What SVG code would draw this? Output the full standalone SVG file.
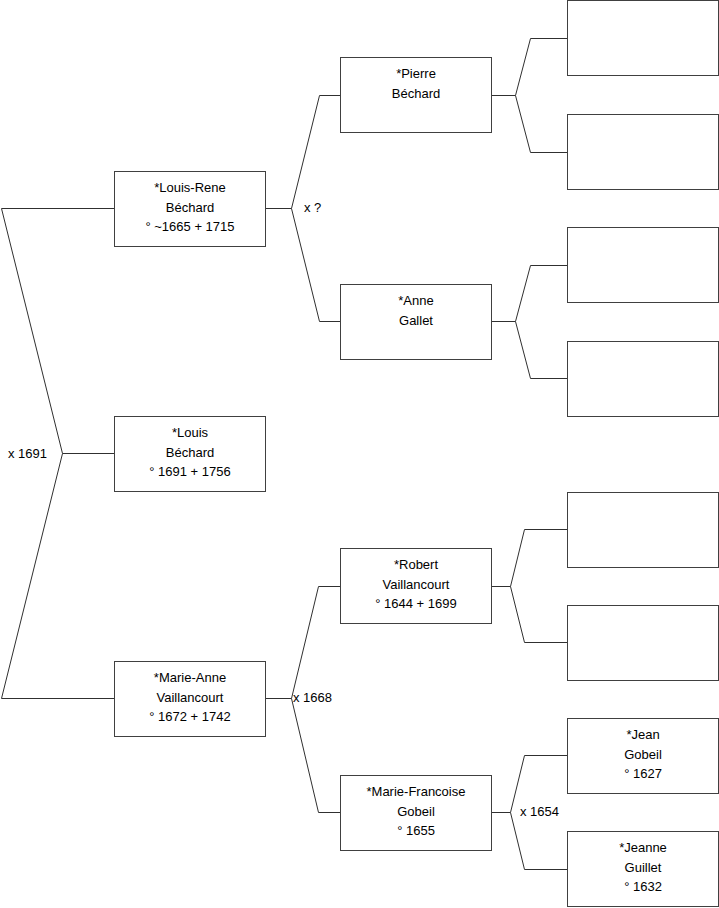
<svg xmlns="http://www.w3.org/2000/svg" width="719" height="908" viewBox="0 0 719 908">
<style>
.box{fill:#fff;stroke:#404040;stroke-width:1}
.ln{fill:none;stroke:#303030;stroke-width:1}
text{font-family:"Liberation Sans",Arial,sans-serif;font-size:13px;fill:#000}
.c{text-anchor:middle}
</style>
<rect width="719" height="908" fill="#fff"/>
<g id="connectors">
<polyline class="ln" points="114.5,208.5 1.5,208.5 62.5,453.5 1.5,698.5 114.5,698.5"/>
<line class="ln" x1="62.5" y1="453.5" x2="114.5" y2="453.5"/>
<line class="ln" x1="265.5" y1="208.5" x2="291.5" y2="208.5"/>
<polyline class="ln" points="340.5,95.5 319.5,95.5 291.5,208.5 319.5,321.5 340.5,321.5"/>
<line class="ln" x1="265.5" y1="698.5" x2="291.5" y2="698.5"/>
<polyline class="ln" points="340.5,586.5 318.5,586.5 291.5,698.5 318.5,812.5 340.5,812.5"/>
<line class="ln" x1="491.5" y1="95.5" x2="515.5" y2="95.5"/>
<polyline class="ln" points="567.5,38.5 530.5,38.5 515.5,95.5 530.5,152.5 567.5,152.5"/>
<line class="ln" x1="491.5" y1="321.5" x2="515.5" y2="321.5"/>
<polyline class="ln" points="567.5,265.5 530.5,265.5 515.5,321.5 530.5,378.5 567.5,378.5"/>
<line class="ln" x1="491.5" y1="586.5" x2="510.5" y2="586.5"/>
<polyline class="ln" points="567.5,529.5 524.5,529.5 510.5,586.5 524.5,642.5 567.5,642.5"/>
<line class="ln" x1="491.5" y1="812.5" x2="510.5" y2="812.5"/>
<polyline class="ln" points="567.5,755.5 524.5,755.5 510.5,812.5 524.5,869.5 567.5,869.5"/>
<text x="8" y="458">x 1691</text>
<text x="304" y="212">x ?</text>
<text x="293" y="702">x 1668</text>
<text x="520" y="816">x 1654</text>
</g>
<g id="louis-rene">
<rect class="box" x="114.5" y="171.5" width="151" height="75"/>
<text class="c" x="190" y="192">*Louis-Rene</text>
<text class="c" x="190" y="211.5">Béchard</text>
<text class="c" x="190" y="231">° ~1665 + 1715</text>
</g>
<g id="louis">
<rect class="box" x="114.5" y="416.5" width="151" height="75"/>
<text class="c" x="190" y="437">*Louis</text>
<text class="c" x="190" y="456.5">Béchard</text>
<text class="c" x="190" y="476">° 1691 + 1756</text>
</g>
<g id="marie-anne">
<rect class="box" x="114.5" y="661.5" width="151" height="75"/>
<text class="c" x="190" y="682">*Marie-Anne</text>
<text class="c" x="190" y="701.5">Vaillancourt</text>
<text class="c" x="190" y="721">° 1672 + 1742</text>
</g>
<g id="pierre">
<rect class="box" x="340.5" y="57.5" width="151" height="75"/>
<text class="c" x="416" y="78">*Pierre</text>
<text class="c" x="416" y="97.5">Béchard</text>
</g>
<g id="anne">
<rect class="box" x="340.5" y="284.5" width="151" height="75"/>
<text class="c" x="416" y="305">*Anne</text>
<text class="c" x="416" y="324.5">Gallet</text>
</g>
<g id="robert">
<rect class="box" x="340.5" y="548.5" width="151" height="75"/>
<text class="c" x="416" y="569">*Robert</text>
<text class="c" x="416" y="588.5">Vaillancourt</text>
<text class="c" x="416" y="608">° 1644 + 1699</text>
</g>
<g id="marie-francoise">
<rect class="box" x="340.5" y="775.5" width="151" height="75"/>
<text class="c" x="416" y="796">*Marie-Francoise</text>
<text class="c" x="416" y="815.5">Gobeil</text>
<text class="c" x="416" y="835">° 1655</text>
</g>
<g id="empty1"><rect class="box" x="567.5" y="0.5" width="151" height="75"/></g>
<g id="empty2"><rect class="box" x="567.5" y="114.5" width="151" height="75"/></g>
<g id="empty3"><rect class="box" x="567.5" y="227.5" width="151" height="75"/></g>
<g id="empty4"><rect class="box" x="567.5" y="341.5" width="151" height="75"/></g>
<g id="empty5"><rect class="box" x="567.5" y="492.5" width="151" height="75"/></g>
<g id="empty6"><rect class="box" x="567.5" y="605.5" width="151" height="75"/></g>
<g id="jean">
<rect class="box" x="567.5" y="718.5" width="151" height="75"/>
<text class="c" x="643" y="739">*Jean</text>
<text class="c" x="643" y="758.5">Gobeil</text>
<text class="c" x="643" y="778">° 1627</text>
</g>
<g id="jeanne">
<rect class="box" x="567.5" y="831.5" width="151" height="75"/>
<text class="c" x="643" y="852">*Jeanne</text>
<text class="c" x="643" y="871.5">Guillet</text>
<text class="c" x="643" y="891">° 1632</text>
</g>
</svg>
